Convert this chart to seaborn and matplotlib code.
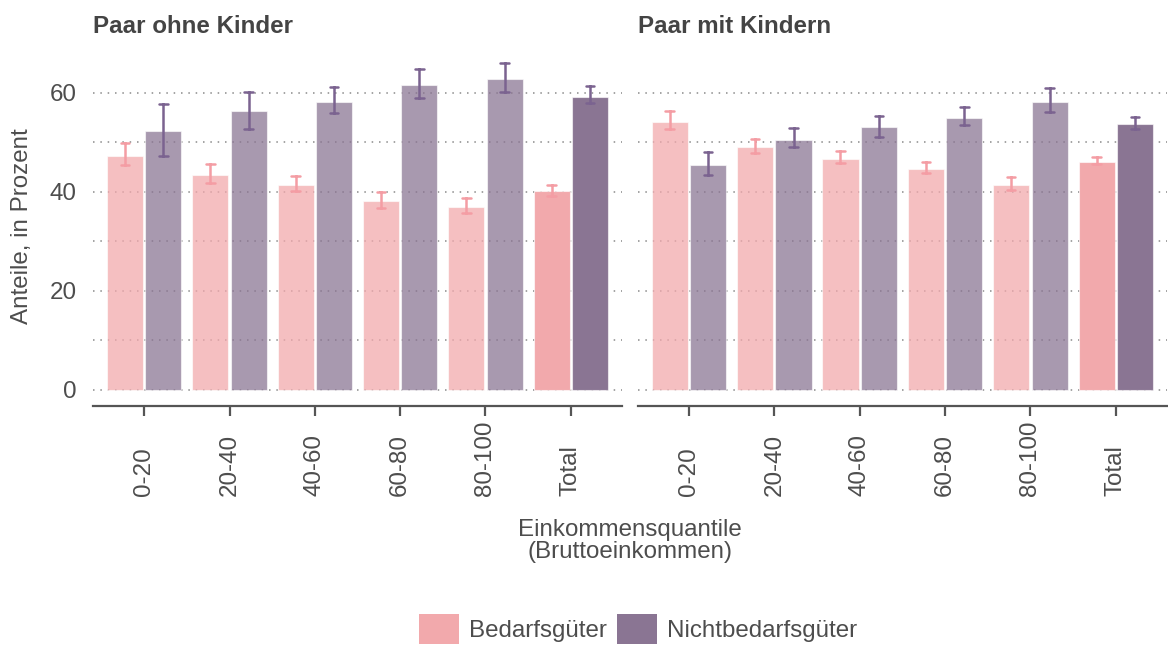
import numpy as np
import pandas as pd
import matplotlib
matplotlib.use("Agg")
import matplotlib.pyplot as plt
from matplotlib.patches import Patch
from matplotlib.colors import to_rgba
import seaborn as sns

# ---------------- data ----------------
categories = ["0-20", "20-40", "40-60", "60-80", "80-100", "Total"]
series = ["Bedarfsgüter", "Nichtbedarfsgüter"]
panels = ["Paar ohne Kinder", "Paar mit Kindern"]

ohne_bedarf = [47.3, 43.4, 41.4, 38.1, 36.9, 40.2]
ohne_bedarf_lo = [45.3, 41.8, 40.1, 36.7, 35.6, 39.2]
ohne_bedarf_hi = [49.9, 45.6, 43.2, 39.9, 38.7, 41.4]
ohne_nicht = [52.3, 56.2, 58.2, 61.5, 62.7, 59.2]
ohne_nicht_lo = [47.3, 52.7, 55.8, 59.0, 60.1, 58.0]
ohne_nicht_hi = [57.8, 60.2, 61.1, 64.7, 66.0, 61.3]

mit_bedarf = [54.1, 49.0, 46.6, 44.6, 41.4, 46.0]
mit_bedarf_lo = [52.7, 47.9, 45.7, 43.8, 40.3, 45.5]
mit_bedarf_hi = [56.3, 50.6, 48.2, 46.0, 42.9, 47.0]
mit_nicht = [45.4, 50.5, 53.0, 54.9, 58.2, 53.6]
mit_nicht_lo = [43.3, 49.0, 51.0, 53.5, 56.1, 52.7]
mit_nicht_hi = [48.1, 52.8, 55.3, 57.0, 61.0, 55.1]

# long table: lo / estimate / hi per bar -> median = estimate, 100% interval = [lo, hi]
rows = []
panel_data = {
    panels[0]: {series[0]: (ohne_bedarf, ohne_bedarf_lo, ohne_bedarf_hi),
                series[1]: (ohne_nicht, ohne_nicht_lo, ohne_nicht_hi)},
    panels[1]: {series[0]: (mit_bedarf, mit_bedarf_lo, mit_bedarf_hi),
                series[1]: (mit_nicht, mit_nicht_lo, mit_nicht_hi)},
}
for p, d in panel_data.items():
    for s, (v, lo, hi) in d.items():
        for c, a, b, m in zip(categories, lo, hi, v):
            for val in (a, m, b):
                rows.append({"panel": p, "quantile": c, "typ": s, "wert": val})
df = pd.DataFrame(rows)

# ---------------- style ----------------
sns.set_style("white")
plt.rcParams["font.family"] = ["Liberation Sans", "DejaVu Sans"]
text_col = "#4d4d4d"
axis_col = "#555555"
fs = 17.4

col_b = "#F2A9AC"
col_n = "#8A7593"
err_b = "#F49DA4"
err_n = "#7B6390"
alpha_q = 0.74

W, H = 1168, 646
fig = plt.figure(figsize=(W / 100, H / 100), dpi=100)

ax_left = [(93, 622), (637.7, 1167)]
y_top, y_bot = 46.6, 406

axes = []
for i, p in enumerate(panels):
    x0, x1 = ax_left[i]
    ax = fig.add_axes([x0 / W, 1 - y_bot / H, (x1 - x0) / W, (y_bot - y_top) / H])
    axes.append(ax)
    sub = df[df["panel"] == p]
    sns.barplot(data=sub, x="quantile", y="wert", hue="typ", order=categories,
                hue_order=series, estimator="median", errorbar=("pi", 100),
                palette=[col_b, col_n], width=0.9, gap=0.06, capsize=0.2,
                err_kws={"linewidth": 1.8}, legend=False, ax=ax, zorder=2)
    # recolor bars: quantile bars semi-transparent, Total opaque
    for cont, base in zip(ax.containers, [col_b, col_n]):
        for j, bar in enumerate(cont):
            a = 1.0 if categories[j] == "Total" else alpha_q
            bar.set_facecolor(to_rgba(base, a))
            bar.set_edgecolor((1, 1, 1, 0.6))
            bar.set_linewidth(0.8)
    n = len(categories)
    for k, ln in enumerate(ax.lines):
        ln.set_color(err_b if k < n else err_n)
        ln.set_zorder(3)

    ax.set_xlim(-0.6, n - 1 + 0.6)
    ax.set_ylim(-3.3, 69.3)
    ax.set_yticks([0, 20, 40, 60])
    ax.set_yticks([10, 30, 50], minor=True)
    ax.grid(axis="y", which="both", color="#8a8a8a", linewidth=1.1,
            linestyle=(0, (1, 3.8)))
    ax.set_axisbelow(True)
    for s in ["top", "right", "left"]:
        ax.spines[s].set_visible(False)
    ax.spines["bottom"].set_color(axis_col)
    ax.spines["bottom"].set_linewidth(1.6)
    ax.set_xticks(range(n))
    ax.set_xticklabels(categories, rotation=90, va="bottom", ha="center",
                       color=text_col, fontsize=fs)
    ax.tick_params(axis="x", bottom=True, length=7, width=1.6, color=axis_col,
                   pad=58, direction="out")
    ax.tick_params(axis="y", which="both", length=0, pad=12,
                   labelsize=fs, labelcolor=text_col)
    if i == 1:
        ax.tick_params(axis="y", labelleft=False)
    ax.set_xlabel("")
    ax.set_ylabel("")
    ax.set_title(p, loc="left", fontweight="bold", fontsize=fs,
                 color="#444444", pad=9.5)

fig.text(22 / W, 1 - 226 / H, "Anteile, in Prozent", rotation=90,
         ha="center", va="center", fontsize=fs, color=text_col)
fig.text(630 / W, 1 - 541 / H, "Einkommensquantile\n(Bruttoeinkommen)",
         ha="center", va="center", fontsize=fs, color=text_col,
         linespacing=1.05)

handles = [Patch(facecolor=col_b, edgecolor="none"),
           Patch(facecolor=col_n, edgecolor="none")]
fig.legend(handles, series, loc="center", bbox_to_anchor=(638 / W, 1 - 629 / H),
           ncol=2, frameon=False, fontsize=fs, handlelength=1.65,
           handleheight=1.55, handletextpad=0.42, columnspacing=0.42,
           labelcolor=text_col)

fig.savefig("out.png", dpi=100)
